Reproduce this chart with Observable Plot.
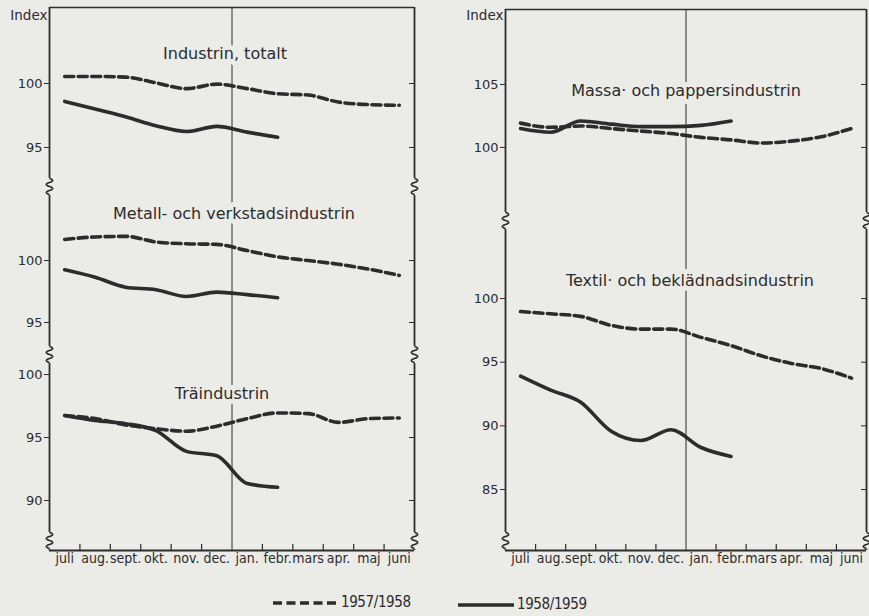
<!DOCTYPE html>
<html><head><meta charset="utf-8">
<script src="https://cdn.jsdelivr.net/npm/d3@7"></script>
<script src="https://cdn.jsdelivr.net/npm/@observablehq/plot@0.6"></script>
<style>
html,body{margin:0;padding:0;background:#ebebe8;}
#chart{position:relative;width:869px;height:616px;overflow:hidden;font-family:"DejaVu Sans",sans-serif;color:#2b2b2b;}
#chart svg{position:absolute;overflow:visible;}
.leg{position:absolute;font-size:15px;line-height:18px;letter-spacing:-0.4px;font-family:'DejaVu Sans Condensed','DejaVu Sans',sans-serif;}
</style></head><body><div id="chart"></div>
<script>
// ---- data ----
const months = ["juli","aug.","sept.","okt.","nov.","dec.","jan.","febr.","mars","apr.","maj","juni"];
const seriesNames = ["1957/1958","1958/1959"];

const totalt5758 = [100.55,100.55,100.5,100.05,99.6,99.95,99.6,99.2,99.1,98.55,98.35,98.3];
const totalt5859 = [98.6,98.0,97.4,96.7,96.25,96.65,96.2,95.8];
const metall5758 = [101.7,101.9,101.95,101.5,101.35,101.3,100.8,100.3,100.0,99.7,99.3,98.8];
const metall5859 = [99.25,98.65,97.85,97.65,97.1,97.45,97.25,97.0];
const tra5758 = [96.75,96.5,96.0,95.7,95.5,95.9,96.5,96.95,96.9,96.2,96.5,96.55];
const tra5859 = [96.75,96.35,96.1,95.55,93.9,93.55,91.35,91.05];
const massa5758 = [101.93,101.6,101.7,101.5,101.3,101.1,100.8,100.6,100.35,100.5,100.85,101.5];
const massa5859 = [101.5,101.2,102.1,101.85,101.65,101.65,101.75,102.1];
const textil5758 = [98.98,98.8,98.6,97.9,97.6,97.6,96.95,96.3,95.5,94.9,94.5,93.75];
const textil5859 = [93.9,92.8,91.85,89.6,88.85,89.7,88.3,87.6];

const ticksTotalt = [95,100];
const ticksMetall = [95,100];
const ticksTra = [90,95,100];
const ticksMassa = [100,105];
const ticksTextil = [85,90,95,100];

const titleTotalt = "Industrin, totalt";
const titleMetall = "Metall- och verkstadsindustrin";
const titleTra = "Träindustrin";
const titleMassa = "Massa· och pappersindustrin";
const titleTextil = "Textil· och beklädnadsindustrin";
const indexLabel = "Index";

// ---- layout / style ----
const INK = "#2c2c2c", BG = "#ebebe8";
const FONT = "'DejaVu Sans', sans-serif";
const MONTHFONT = "'DejaVu Sans Condensed', 'Liberation Sans Narrow', Roboto, sans-serif";

const toRows = arr => arr.map((v, i) => ({x: i + 0.5, v}));
const monthCenters = months.map((m, i) => i + 0.5);
const boundaries = months.map((m, i) => i).filter(i => i > 0 && i !== 6);

// axis-break symbols (decoration drawn at the frame edge)
const squiggle = {draw(ctx) {
  const A = 3.2, h = 4;
  ctx.moveTo(0, -8);
  for (let k = 0; k < 4; k++) {
    const y0 = -8 + k * h;
    ctx.quadraticCurveTo((k % 2 ? -2 : 2) * A, y0 + h / 2, 0, y0 + h);
  }
}};
const eraser = {draw(ctx) { ctx.moveTo(0, -8.5); ctx.lineTo(0, 8.5); }};

function panel(cfg) {
  const marks = [];
  const [y0, y1] = cfg.domain;
  marks.push(Plot.ruleX([0, 12], {stroke: INK, strokeWidth: 1.8}));
  marks.push(Plot.ruleX([6], {stroke: INK, strokeWidth: 1}));
  if (cfg.isTop) marks.push(Plot.ruleY([y1], {stroke: INK, strokeWidth: 1.5}));
  if (cfg.isBottom) {
    marks.push(Plot.ruleY([y0], {stroke: INK, strokeWidth: 1.8}));
    marks.push(Plot.axisX({ticks: boundaries, tickSize: -6, tickFormat: () => "", label: null, stroke: INK, strokeWidth: 1.2}));
    marks.push(Plot.axisX({ticks: monthCenters, tickSize: 0, tickPadding: 3, tickFormat: d => months[Math.floor(d)],
      label: null, fontSize: 14, fill: INK, fontFamily: MONTHFONT}));
  }
  marks.push(Plot.axisY({ticks: cfg.ticks, anchor: "left", tickSize: 5, tickPadding: 2, fontSize: 13, label: null, stroke: INK, fill: INK}));
  marks.push(Plot.axisY({ticks: cfg.ticks, anchor: "right", tickSize: -6, tickFormat: () => "", label: null, stroke: INK}));
  // title with paper halo
  marks.push(Plot.text([cfg.title], {frameAnchor: "top", lineAnchor: "middle", dx: cfg.tdx, dy: cfg.tdy,
    fontSize: 16, fill: INK, stroke: BG, strokeWidth: 10, fontFamily: FONT}));
  // data lines
  marks.push(Plot.line(toRows(cfg.a), {x: "x", y: "v", stroke: INK, strokeWidth: 3.6, strokeDasharray: "9,4.5", curve: "monotone-x"}));
  marks.push(Plot.line(toRows(cfg.b), {x: "x", y: "v", stroke: INK, strokeWidth: 3.6, curve: "monotone-x"}));
  // axis-break squiggles
  const sq = (anchor, dy) => [
    Plot.dot([0], {frameAnchor: anchor, dy, symbol: eraser, stroke: BG, strokeWidth: 5, fill: "none"}),
    Plot.dot([0], {frameAnchor: anchor, dy, symbol: squiggle, stroke: INK, strokeWidth: 1.6, fill: "none"})
  ];
  if (cfg.breakTop) marks.push(...sq("top-left", 0), ...sq("top-right", 0));
  if (cfg.breakBottom) marks.push(...sq("bottom-left", -10), ...sq("bottom-right", -10));
  if (cfg.index) marks.push(Plot.text([indexLabel], {frameAnchor: "top-left", textAnchor: "end", lineAnchor: "middle",
    dx: -2, dy: cfg.index, fontSize: 13.5, fill: INK, fontFamily: FONT}));

  const svg = Plot.plot({
    width: cfg.width, height: cfg.height,
    marginLeft: cfg.ml, marginRight: cfg.mr, marginTop: cfg.mt, marginBottom: cfg.mb,
    x: {domain: [0, 12], axis: null},
    y: {domain: cfg.domain, axis: null},
    style: {background: "transparent", overflow: "visible", fontFamily: FONT, color: INK},
    marks
  });
  svg.style.left = cfg.left + "px";
  svg.style.top = cfg.top + "px";
  document.getElementById("chart").appendChild(svg);
}

const L = {left: 0, width: 430, ml: 49, mr: 16};
const R = {left: 430, width: 439, ml: 75, mr: 3};

panel({...L, top: 0, height: 186, mt: 7, mb: 0, domain: [91.95, 105.94], ticks: ticksTotalt,
  title: titleTotalt, tdx: -7, tdy: 46, a: totalt5758, b: totalt5859, isTop: true, index: 8});
panel({...L, top: 186, height: 168, mt: 0, mb: 0, domain: [92.42, 105.97], ticks: ticksMetall,
  title: titleMetall, tdx: 2, tdy: 27, a: metall5758, b: metall5859, breakTop: true});
panel({...L, top: 354, height: 231, mt: 0, mb: 35, domain: [86.03, 101.59], ticks: ticksTra,
  title: titleTra, tdx: -10, tdy: 39, a: tra5758, b: tra5859, breakTop: true, breakBottom: true, isBottom: true});
panel({...R, top: 0, height: 220, mt: 9, mb: 0, domain: [94.2, 110.95], ticks: ticksMassa,
  title: titleMassa, tdx: 0, tdy: 81, a: massa5758, b: massa5859, isTop: true, index: 6});
panel({...R, top: 220, height: 365, mt: 0, mb: 35, domain: [80.21, 106.13], ticks: ticksTextil,
  title: titleTextil, tdx: 4, tdy: 60, a: textil5758, b: textil5859, breakTop: true, breakBottom: true, isBottom: true});

// ---- legend ----
const chart = document.getElementById("chart");
function legendItem(x, y, w, dashed, label) {
  const ns = "http://www.w3.org/2000/svg";
  const s = document.createElementNS(ns, "svg");
  s.setAttribute("width", w); s.setAttribute("height", 8);
  s.style.left = x + "px"; s.style.top = (y - 4) + "px";
  const ln = document.createElementNS(ns, "line");
  ln.setAttribute("x1", 0); ln.setAttribute("x2", w); ln.setAttribute("y1", 4); ln.setAttribute("y2", 4);
  ln.setAttribute("stroke", INK); ln.setAttribute("stroke-width", 3.6);
  if (dashed) ln.setAttribute("stroke-dasharray", "9,4.5");
  s.appendChild(ln);
  chart.appendChild(s);
  const t = document.createElement("div");
  t.className = "leg"; t.textContent = label;
  t.style.left = (x + w + 3) + "px"; t.style.top = (y - 10) + "px";
  chart.appendChild(t);
}
legendItem(273, 603, 65, true, seriesNames[0]);
legendItem(458, 605, 56, false, seriesNames[1]);
</script></body></html>
